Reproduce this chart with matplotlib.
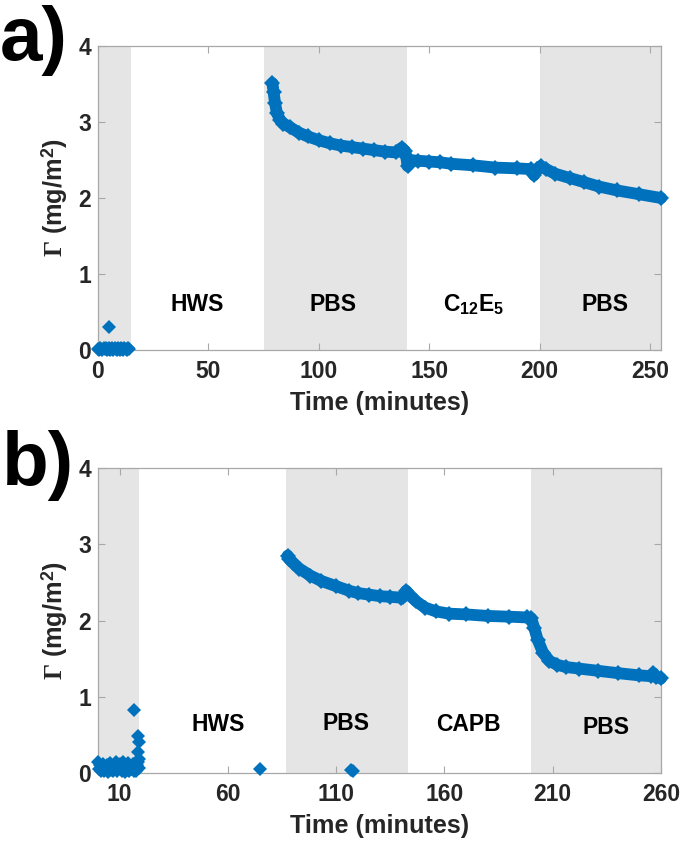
import matplotlib
matplotlib.use("Agg")
import matplotlib.pyplot as plt

plt.rcParams['font.family'] = ['Liberation Sans', 'DejaVu Sans']
plt.rcParams['font.weight'] = 'bold'
plt.rcParams['mathtext.fontset'] = 'custom'
plt.rcParams['mathtext.rm'] = 'Liberation Serif'
plt.rcParams['mathtext.bf'] = 'Liberation Sans:bold'
plt.rcParams['mathtext.it'] = 'Liberation Serif:italic'
plt.rcParams['mathtext.sf'] = 'Liberation Sans:bold'

# ---------------- data: panel a ----------------
a_base_t = [0, 0.5, 1.0, 1.5, 2.0, 2.5, 3.0, 3.5, 4.0, 4.5, 5.0, 5.5, 6.0, 6.5, 7.0, 7.5, 8.0, 8.5,
            9.0, 9.5, 10.0, 10.5, 11.0, 11.5, 12.0, 12.5, 13.0, 13.5, 14.0]
a_base_g = [0.01, 0.0, 0.02, 0.01, 0.0, 0.02, 0.01, 0.03, 0.0, 0.01, 0.02, 0.0, 0.01, 0.03, 0.0,
            0.02, 0.01, 0.0, 0.02, 0.01, 0.0, 0.03, 0.01, 0.0, 0.02, 0.01, 0.0, 0.02, 0.01]
a_out_t = [5.0]
a_out_g = [0.30]
a_t = [79.0, 79.5, 80.2, 81.0, 82.4, 84.0, 87.0, 91.0, 95.0, 100.0, 105.0, 110.0, 115.0, 120.0, 125.0,
       130.0, 135.0, 137.5, 139.0, 139.6, 140.2, 141.0, 145.0, 150.0, 155.0, 160.0, 170.0, 180.0,
       190.0, 196.0, 197.5, 199.0, 200.5, 203.0, 207.0, 214.0, 220.0, 227.0, 235.0, 245.0, 255.0]
a_g = [3.51, 3.40, 3.25, 3.12, 3.03, 2.98, 2.93, 2.86, 2.81, 2.76, 2.72, 2.69, 2.67, 2.65, 2.63,
       2.61, 2.60, 2.66, 2.62, 2.55, 2.42, 2.50, 2.49, 2.48, 2.47, 2.45, 2.43, 2.40,
       2.39, 2.38, 2.30, 2.38, 2.42, 2.38, 2.32, 2.26, 2.21, 2.15, 2.10, 2.05, 2.00]
a_regions = [(0, 15), (75, 140), (200, 255)]
a_labels = ['HWS', 'PBS', 'C$_{\\mathbf{12}}$E$_{\\mathbf{5}}$', 'PBS']
a_label_t = [45, 106.5, 170, 229.5]
a_label_g = [0.60, 0.60, 0.60, 0.60]
a_xticks = [0, 50, 100, 150, 200, 250]

# ---------------- data: panel b ----------------
b_base_t = [0, 0.5, 1.0, 1.5, 2.0, 2.5, 3.0, 3.5, 4.0, 4.5, 5.0, 5.5, 6.0, 6.5, 7.0, 7.5, 8.0, 8.5,
            9.0, 9.5, 10.0, 10.5, 11.0, 11.5, 12.0, 12.5, 13.0, 13.5, 14.0, 14.5, 15.0, 15.5, 16.0,
            16.5, 17.0, 17.5, 18.0, 18.5, 19.0]
b_base_g = [0.15, 0.05, 0.10, 0.02, 0.08, 0.12, 0.03, 0.06, 0.10, 0.01, 0.07, 0.13, 0.04, 0.09, 0.02,
            0.11, 0.06, 0.14, 0.03, 0.08, 0.12, 0.05, 0.02, 0.15, 0.06, 0.01, 0.10, 0.04, 0.13, 0.02,
            0.09, 0.05, 0.12, 0.03, 0.07, 0.02, 0.10, 0.15, 0.06]
b_out_t = [16.6, 18.5, 19.1, 18.5, 18.8, 75.0, 117.0, 117.6]
b_out_g = [0.83, 0.48, 0.41, 0.28, 0.18, 0.05, 0.04, 0.03]
b_t = [87.6, 88.2, 90.0, 93.0, 98.0, 103.0, 110.0, 116.0, 120.0, 125.0, 130.0, 135.0, 140.0, 141.0,
       142.3, 144.0, 147.0, 151.0, 156.0, 162.0, 170.0, 180.0, 190.0, 198.0, 200.0, 201.5, 203.0,
       205.5, 208.5, 212.0, 216.0, 222.0, 231.0, 240.0, 250.0, 255.5, 256.5, 257.5, 260.0]
b_g = [2.85, 2.81, 2.76, 2.68, 2.59, 2.52, 2.45, 2.39, 2.36, 2.34, 2.32, 2.31, 2.30, 2.31,
       2.39, 2.33, 2.25, 2.17, 2.12, 2.09, 2.08, 2.06, 2.05, 2.04, 2.03, 1.90, 1.75,
       1.58, 1.47, 1.42, 1.39, 1.37, 1.34, 1.31, 1.28, 1.27, 1.31, 1.26, 1.24]
b_regions = [(0, 19), (87, 143), (200, 260)]
b_labels = ['HWS', 'PBS', 'CAPB', 'PBS']
b_label_t = [55.5, 114.5, 171, 234.5]
b_label_g = [0.63, 0.65, 0.63, 0.60]
b_xticks = [10, 60, 110, 160, 210, 260]

yticks = [0, 1, 2, 3, 4]

BLUE = '#0072BD'
SHADE = '#E5E5E5'
AXC = '#A8A8A8'
TXT = '#262626'

fig = plt.figure(figsize=(6.85, 8.49), dpi=100)
W, H = 685, 849


def make_axes(top, bottom):
    return fig.add_axes([98 / W, 1 - bottom / H, (661 - 98) / W, (bottom - top) / H])


def style(ax, xlim, xticks):
    ax.set_xlim(*xlim)
    ax.set_ylim(0, 4)
    ax.set_xticks(xticks)
    ax.set_yticks(yticks)
    ax.tick_params(direction='in', length=5, width=0.8, color=AXC, top=True, right=True,
                   labelsize=16.5, labelcolor=TXT)
    ax.tick_params(axis='x', pad=7)
    ax.tick_params(axis='y', pad=5)
    for lab in ax.get_xticklabels() + ax.get_yticklabels():
        lab.set_fontweight('bold')
    for s in ax.spines.values():
        s.set_color(AXC)
        s.set_linewidth(0.9)
    ax.set_xlabel('Time (minutes)', fontsize=18.2, fontweight='bold', color=TXT)
    ax.xaxis.set_label_coords(0.5, -0.135)
    ax.set_ylabel(r'$\mathrm{\Gamma}$ (mg/m$^{\mathbf{2}}$)', fontsize=18.2, fontweight='bold', color=TXT)
    ax.yaxis.set_label_coords(-0.05, 0.5)


def draw(ax, regions, base_t, base_g, out_t, out_g, t, g, labels, lt, lg):
    for r0, r1 in regions:
        ax.axvspan(r0, r1, color=SHADE, lw=0, zorder=0)
    ax.plot(base_t, base_g, 'D', color=BLUE, ms=7.5, mew=0, clip_on=False, zorder=3)
    ax.plot(out_t, out_g, 'D', color=BLUE, ms=7, mew=0, clip_on=False, zorder=3)
    ax.plot(t, g, '-', color=BLUE, lw=8.5, solid_capstyle='round', solid_joinstyle='round',
            clip_on=False, zorder=3)
    ax.plot(t, g, 'D', color=BLUE, ms=8, mew=0, clip_on=False, zorder=3)
    for s, x, y in zip(labels, lt, lg):
        ax.text(x, y, s, ha='center', va='center', fontsize=16.5, fontweight='bold', color='black')


ax1 = make_axes(46, 350)
draw(ax1, a_regions, a_base_t, a_base_g, a_out_t, a_out_g, a_t, a_g, a_labels, a_label_t, a_label_g)
style(ax1, (0, 255), a_xticks)

ax2 = make_axes(468, 773)
draw(ax2, b_regions, b_base_t, b_base_g, b_out_t, b_out_g, b_t, b_g, b_labels, b_label_t, b_label_g)
style(ax2, (0, 260), b_xticks)

fig.text(0 / W, 1 - 60 / H, 'a)', fontsize=55, fontweight='bold', va='baseline', ha='left', color='black')
fig.text(2 / W, 1 - 485 / H, 'b)', fontsize=55, fontweight='bold', va='baseline', ha='left', color='black')

fig.savefig('out.png', dpi=100)
